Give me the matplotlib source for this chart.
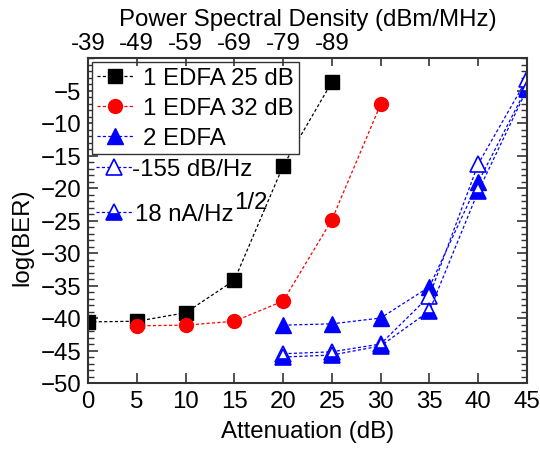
import matplotlib
matplotlib.use("Agg")
import matplotlib.pyplot as plt
from matplotlib.ticker import MultipleLocator
from matplotlib.legend import Legend

plt.rcParams['font.family'] = ['Liberation Sans', 'DejaVu Sans']

# ---- data ----
att_black = [0, 5, 10, 15, 20, 25]
ber_black = [-40.6, -40.5, -39.2, -34.2, -16.6, -3.7]

att_red = [5, 10, 15, 20, 25, 30]
ber_red = [-41.2, -41.1, -40.5, -37.4, -24.9, -7.1]

att_blue = [20, 25, 30, 35, 40, 45]
ber_2edfa = [-41.1, -40.9, -40.0, -35.2, -19.1, -4.5]
ber_155 = [-45.5, -45.2, -44.0, -36.6, -16.3, -3.2]
ber_18na = [-46.0, -45.7, -44.3, -38.9, -20.5, -4.8]

top_ticks = [0, 5, 10, 15, 20, 25, 30, 35, 40, 45]
top_labels = ['-39', '-49', '-59', '-69', '-79', '-89', '', '', '', '']

FS = 17.3
fig = plt.figure(figsize=(5.4, 4.52), dpi=100)
ax = fig.add_axes([88/540, 1-384/452, (527-88)/540, (384-59)/452])

ls = (0, (2.5, 1.8))
lw = 0.9
l1, = ax.plot(att_black, ber_black, ls=ls, lw=lw, color='black', marker='s',
              ms=9.5, mfc='black', mec='black', label='1 EDFA 25 dB')
l2, = ax.plot(att_red, ber_red, ls=ls, lw=lw, color='red', marker='o',
              ms=10, mfc='red', mec='red', label='1 EDFA 32 dB')
l3, = ax.plot(att_blue, ber_2edfa, ls=ls, lw=lw, color='blue', marker='^',
              ms=11, mfc='blue', mec='blue', label='2 EDFA')
l4, = ax.plot(att_blue, ber_155, ls=ls, lw=lw, color='blue', marker='^',
              ms=11, mfc='white', mec='blue', mew=1.2, label='-155 dB/Hz')
l5, = ax.plot(att_blue, ber_18na, ls=ls, lw=lw, color='blue', marker='^',
              ms=11, mfc='blue', mfcalt='white', fillstyle='bottom', mec='blue',
              mew=1.2, label='18 nA/Hz')

ax.set_xlim(0, 45)
ax.set_ylim(-50, 0)
ax.xaxis.set_major_locator(MultipleLocator(5))
ax.yaxis.set_minor_locator(MultipleLocator(1))
ax.set_yticks([-50, -45, -40, -35, -30, -25, -20, -15, -10, -5])
ax.tick_params(axis='both', which='major', direction='in', length=7, width=1.2,
               labelsize=FS, pad=5, colors='#333333', labelcolor='black')
ax.tick_params(axis='y', which='minor', direction='in', length=4, width=1.0,
               colors='#333333')
ax.tick_params(axis='y', which='both', right=True)
ax.tick_params(axis='x', which='both', top=False)
for s in ax.spines.values():
    s.set_linewidth(1.5)
    s.set_color('#333333')

ax.set_xlabel('Attenuation (dB)', fontsize=FS, labelpad=6)
ax.set_ylabel('log(BER)', fontsize=FS)
ax.yaxis.set_label_coords(-0.125, 0.45)

ax2 = ax.twiny()
ax2.set_xlim(0, 45)
ax2.set_xticks(top_ticks)
ax2.set_xticklabels(top_labels)
ax2.tick_params(axis='x', direction='in', length=6, width=1.2, labelsize=FS,
                pad=3, colors='#333333', labelcolor='black')
ax2.set_xlabel('Power Spectral Density (dBm/MHz)', fontsize=FS, labelpad=5)
for s in ax2.spines.values():
    s.set_visible(False)

leg1 = ax.legend(handles=[l1, l2, l3], loc='upper left',
                 bbox_to_anchor=(4/439, 1-4/325), borderaxespad=0,
                 fontsize=FS, frameon=True, fancybox=False, edgecolor='#333333',
                 framealpha=1, handlelength=1.5, handletextpad=0.4,
                 borderpad=0.22, labelspacing=0.33, numpoints=1)
leg1.get_frame().set_linewidth(1.0)

leg2 = Legend(ax, [l4], ['-155 dB/Hz'], loc='center left',
              bbox_to_anchor=(4/439, (384-170)/325), borderaxespad=0,
              fontsize=FS, frameon=False, handlelength=1.5, handletextpad=0.0,
              borderpad=0.15, numpoints=1)
leg3 = Legend(ax, [l5], ['18 nA/Hz'], loc='center left',
              bbox_to_anchor=(4/439, (384-215)/325), borderaxespad=0,
              fontsize=FS, frameon=False, handlelength=1.5, handletextpad=0.15,
              borderpad=0.15, numpoints=1)
ax.add_artist(leg2)
ax.add_artist(leg3)

t = leg3.get_texts()[0]
ax.annotate('1/2', xy=(1.0, 0.55), xycoords=t, fontsize=FS, ha='left',
            va='bottom', zorder=10)

fig.savefig('out.png', dpi=100)
